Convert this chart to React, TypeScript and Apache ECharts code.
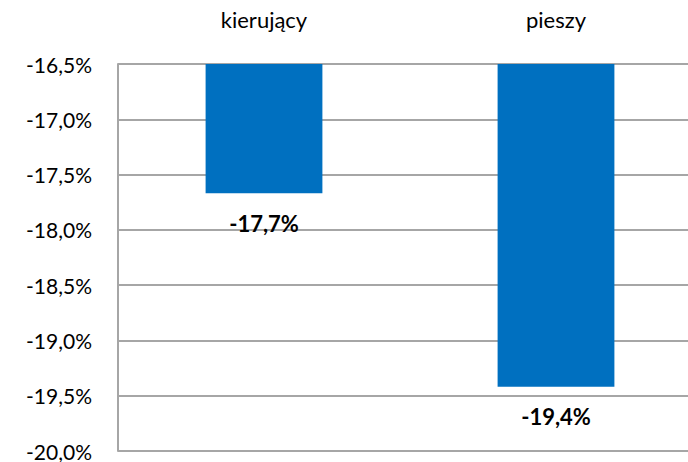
import React, { useEffect, useRef } from "react";
import * as echarts from "echarts";

const categories = ["kierujący", "pieszy"];
const values = [-17.67, -19.42];
const yMin = -20;
const yMax = -16.5;
const yStep = 0.5;

const fmt = (v: number) => v.toFixed(1).replace(".", ",") + "%";

export default function App() {
  const ref = useRef<HTMLDivElement>(null);
  useEffect(() => {
    if (!ref.current) return;
    const chart = echarts.init(ref.current, undefined, { renderer: "svg" });
    chart.setOption({
      animation: false,
      textStyle: { fontFamily: "Lato" },
      grid: { left: 118, top: 64, bottom: 11, right: 0, containLabel: false },
      xAxis: {
        type: "category",
        position: "top",
        data: categories,
        axisLine: { show: false },
        axisTick: { show: false },
        axisLabel: { color: "#000", fontSize: 22, margin: 34, fontFamily: "Lato" },
      },
      yAxis: {
        type: "value",
        min: yMin,
        max: yMax,
        interval: yStep,
        axisLine: { show: true, lineStyle: { color: "#a6a6a6", width: 2 } },
        axisTick: { show: false },
        splitLine: { show: true, lineStyle: { color: "#a6a6a6", width: 2 } },
        axisLabel: {
          color: "#000",
          fontSize: 21,
          margin: 26,
          fontFamily: "Lato",
          formatter: (v: number) => fmt(v),
        },
      },
      series: [
        {
          type: "bar",
          data: values,
          barWidth: "40%",
          clip: true,
          itemStyle: { color: "#0070C0" },
          label: {
            show: true,
            position: "bottom",
            distance: 19,
            color: "#000",
            fontWeight: "bold",
            fontSize: 22,
            fontFamily: "Lato",
            formatter: (p: any) => fmt(p.value),
          },
        },
      ],
    });
    return () => chart.dispose();
  }, []);
  return (
    <div style={{ width: 688, height: 462, position: "absolute", left: 0, top: 0, overflow: "hidden" }}>
      <div ref={ref} style={{ width: 702, height: 462 }} />
    </div>
  );
}
